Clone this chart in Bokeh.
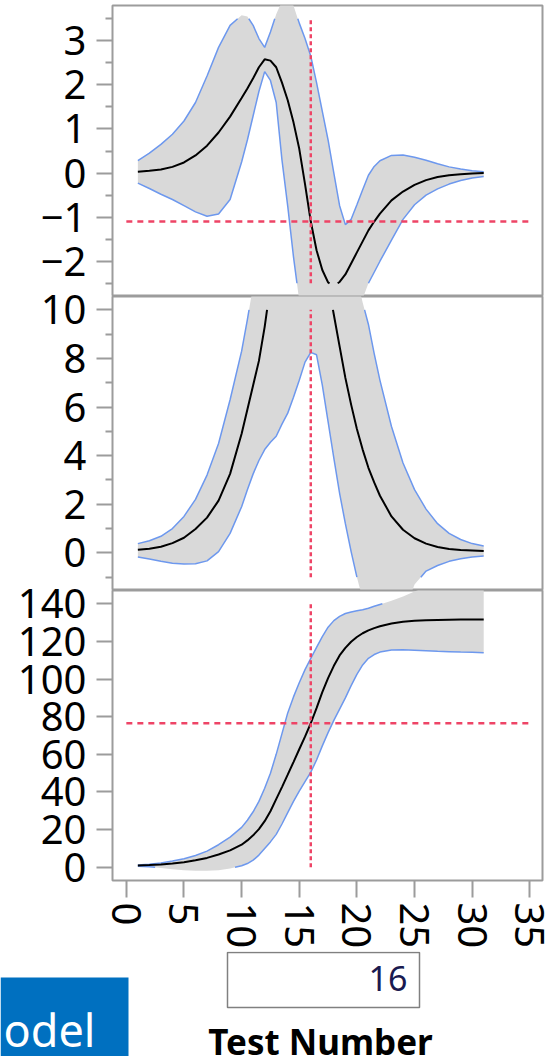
import numpy as np
from bokeh.plotting import figure
from bokeh.models import Range1d, FixedTicker
from bokeh.layouts import column
from bokeh.core.properties import value
from bokeh.embed import file_html
from bokeh.resources import INLINE

# ---------------- data ----------------
test_number = [1, 2, 3, 4, 5, 6, 7, 8, 9,
               10, 10.5, 11, 11.5, 12, 12.5, 13, 13.5, 14, 14.5, 15, 15.5, 16, 16.5,
               17, 17.5, 18, 18.5, 19, 19.5, 20, 20.5, 21, 21.5, 22,
               23, 24, 25, 26, 27, 28, 29, 30, 31]

p1_mean = [0.03, 0.05, 0.08, 0.14, 0.24, 0.40, 0.62, 0.92, 1.28,
           1.70, 1.92, 2.15, 2.40, 2.58, 2.55, 2.40, 2.05, 1.65, 1.15, 0.55, -0.25, -1.10, -1.75,
           -2.20, -2.48, -2.56, -2.47, -2.30, -2.05, -1.80, -1.55, -1.30, -1.10, -0.92,
           -0.62, -0.42, -0.27, -0.16, -0.09, -0.05, -0.03, -0.01, 0.00]
p1_upper = [0.28, 0.45, 0.65, 0.88, 1.18, 1.60, 2.20, 2.85, 3.35,
            3.58, 3.55, 3.35, 3.05, 2.85, 3.20, 3.60, 3.90, 4.00, 3.80, 3.40, 3.05, 2.65, 2.05,
            1.40, 0.75, 0.00, -0.74, -1.17, -1.05, -0.72, -0.38, -0.05, 0.15, 0.28,
            0.40, 0.41, 0.36, 0.29, 0.21, 0.14, 0.09, 0.05, 0.03]
p1_lower = [-0.23, -0.35, -0.48, -0.60, -0.74, -0.88, -0.98, -0.93, -0.60,
            0.25, 0.75, 1.30, 1.85, 2.30, 2.10, 1.60, 0.30, -0.75, -1.90, -2.90, -3.60, -4.00, -4.30,
            -4.50, -4.55, -4.50, -4.30, -4.00, -3.60, -3.20, -2.85, -2.50, -2.25, -2.00,
            -1.52, -1.05, -0.72, -0.50, -0.36, -0.25, -0.17, -0.11, -0.08]

p2_mean = [0.13, 0.17, 0.25, 0.40, 0.62, 0.98, 1.45, 2.15, 3.25,
           4.90, 5.90, 6.90, 7.90, 9.30, 11.0, 12.8, 14.5, 15.8, 16.5, 16.6, 16.0, 15.0, 13.8,
           12.5, 11.1, 9.80, 8.50, 7.20, 6.10, 5.10, 4.25, 3.50, 2.90, 2.35,
           1.50, 0.95, 0.60, 0.38, 0.24, 0.16, 0.12, 0.10, 0.08]
p2_upper = [0.38, 0.50, 0.68, 1.00, 1.50, 2.20, 3.20, 4.50, 6.30,
            8.30, 9.60, 11.0, 12.5, 14.0, 15.5, 17.0, 18.5, 19.5, 20.5, 21.0, 21.0, 20.5, 19.5,
            18.5, 17.3, 16.0, 14.8, 13.6, 12.4, 11.3, 10.3, 9.40, 8.20, 7.10,
            5.20, 3.70, 2.60, 1.80, 1.20, 0.80, 0.55, 0.38, 0.28]
p2_lower = [-0.17, -0.25, -0.35, -0.43, -0.46, -0.45, -0.33, 0.05, 0.80,
            1.90, 2.60, 3.25, 3.80, 4.25, 4.55, 4.80, 5.30, 5.75, 6.40, 7.10, 7.85, 8.25, 8.15,
            6.90, 5.40, 3.90, 2.45, 1.20, 0.05, -1.00, -1.90, -2.60, -3.10, -3.40,
            -3.50, -2.60, -1.30, -0.75, -0.52, -0.35, -0.24, -0.17, -0.13]

p3_mean = [1.0, 1.2, 1.5, 2.0, 2.7, 3.7, 5.0, 6.8, 9.0,
           12.0, 14.3, 17.0, 20.3, 24.5, 29.8, 36.2, 42.6, 49.2, 55.9, 62.7, 69.4, 76.5, 84.5,
           93.0, 100.5, 107.0, 112.5, 116.5, 119.8, 122.3, 124.3, 125.8, 127.0, 128.0,
           129.5, 130.4, 130.9, 131.2, 131.4, 131.5, 131.6, 131.6, 131.6]
p3_upper = [1.2, 1.6, 2.3, 3.3, 4.6, 6.3, 8.6, 12.0, 16.0,
            21.2, 25.0, 29.5, 35.0, 42.0, 50.0, 60.0, 71.0, 82.0, 90.5, 98.0, 105.0, 111.0, 116.8,
            122.5, 127.5, 131.0, 133.3, 134.8, 135.6, 136.2, 136.8, 137.6, 138.6, 139.6,
            141.5, 143.8, 146.5, 149.0, 150.5, 151.5, 152.0, 152.5, 153.0]
p3_lower = [0.6, 0.3, -0.3, -1.0, -1.5, -1.8, -1.8, -1.5, -0.6,
            0.8, 2.0, 3.8, 6.5, 10.0, 13.5, 17.5, 23.0, 29.0, 35.0, 40.5, 45.5, 50.5, 57.0,
            64.5, 71.5, 78.0, 84.0, 90.0, 96.5, 102.5, 107.5, 111.0, 113.0, 114.3,
            115.4, 115.6, 115.3, 115.0, 114.7, 114.5, 114.3, 114.2, 114.0]

x_ticks = [0, 5, 10, 15, 20, 25, 30, 35]
p1_ticks = [-2, -1, 0, 1, 2, 3]
p1_minor = [-2.5, -1.5, -0.5, 0.5, 1.5, 2.5, 3.5]
p2_ticks = [0, 2, 4, 6, 8, 10]
p2_minor = [-1, 1, 3, 5, 7, 9]
p3_ticks = [0, 20, 40, 60, 80, 100, 120, 140]
current_x = 16
x_title = "Test Number"
side_tab = "odel"

# ---------------- style ----------------
FONT = "Noto Sans"
FILL = "#d9d9d9"
BAND = "#6d98ee"
RED = "#ee4466"
FRAME = "#9c9c9c"
OVER = 30   # canvas overlap above each lower panel, so its top tick label has room


def clip_polyline(xs, ys, lo, hi):
    """Cut a polyline to the horizontal band lo..hi (render-time clipping)."""
    out_x, out_y = [], []
    open_piece = False
    for i in range(len(xs) - 1):
        x0, y0, x1, y1 = xs[i], ys[i], xs[i + 1], ys[i + 1]
        dy = y1 - y0
        t0, t1 = 0.0, 1.0
        if dy == 0:
            if not (lo <= y0 <= hi):
                open_piece = False
                continue
        else:
            ta, tb = (lo - y0) / dy, (hi - y0) / dy
            t0 = max(0.0, min(ta, tb))
            t1 = min(1.0, max(ta, tb))
            if t0 >= t1:
                open_piece = False
                continue
        ax, ay = x0 + t0 * (x1 - x0), y0 + t0 * dy
        bx, by = x0 + t1 * (x1 - x0), y0 + t1 * dy
        if not (open_piece and t0 == 0.0):
            if out_x:
                out_x.append(np.nan)
                out_y.append(np.nan)
            out_x.append(ax)
            out_y.append(ay)
        out_x.append(bx)
        out_y.append(by)
        open_piece = (t1 == 1.0)
    return np.array(out_x, dtype=float), np.array(out_y, dtype=float)


xr = Range1d(-1.2, 36.1)


def make_panel(frame_h, mean, upper, lower, ticks, minor, top=0, bottom=0,
               xaxis=False, hline=True, overlap=0):
    allt = sorted(list(ticks) + list(minor))
    lo, hi = allt[0], allt[-1]
    pad = 0.05 * (hi - lo)
    p = figure(width=548, height=frame_h + top + bottom + overlap, x_range=xr,
               y_range=Range1d(lo - pad, hi + pad),
               output_backend="svg", toolbar_location=None,
               x_axis_location="below" if xaxis else None,
               min_border_left=112, min_border_right=6,
               min_border_top=top + overlap, min_border_bottom=bottom)
    if overlap:
        p.margin = (-overlap, 0, 0, 0)
        p.border_fill_color = None
    else:
        p.border_fill_color = "white"
    p.background_fill_color = "white"
    p.outline_line_color = FRAME
    p.outline_line_width = 2
    p.grid.visible = False

    p.varea(x=test_number, y1=lower, y2=upper, fill_color=FILL, fill_alpha=1.0)
    for ser, col, w in ((upper, BAND, 1.5), (lower, BAND, 1.5), (mean, "black", 2.0)):
        cx, cy = clip_polyline(test_number, ser, lo, hi)
        p.line(cx, cy, line_color=col, line_width=w)

    p.segment(x0=[current_x], y0=[lo], x1=[current_x], y1=[hi],
              line_color=RED, line_width=2.5, line_dash="4 3")
    if hline:
        yv = mean[test_number.index(current_x)]
        p.segment(x0=[x_ticks[0]], y0=[yv], x1=[x_ticks[-1]], y1=[yv],
                  line_color=RED, line_width=2.5, line_dash="6 5")

    ax = p.yaxis[0]
    ax.ticker = FixedTicker(ticks=ticks, minor_ticks=minor)
    ax.axis_line_color = None
    ax.major_tick_line_color = FRAME
    ax.major_tick_line_width = 2
    ax.minor_tick_line_color = FRAME
    ax.minor_tick_line_width = 2
    ax.major_tick_in = 0
    ax.major_tick_out = 16
    ax.minor_tick_in = 0
    ax.minor_tick_out = 7
    ax.major_label_text_font = FONT
    ax.major_label_text_font_size = "40px"
    ax.major_label_text_color = "black"
    ax.major_label_standoff = 10

    if xaxis:
        xa = p.xaxis[0]
        xa.ticker = FixedTicker(ticks=x_ticks, minor_ticks=[])
        xa.axis_line_color = None
        xa.major_tick_line_color = FRAME
        xa.major_tick_line_width = 2
        xa.major_tick_in = 0
        xa.major_tick_out = 17
        xa.major_label_orientation = "vertical"
        xa.major_label_text_font = FONT
        xa.major_label_text_font_size = "40px"
        xa.major_label_text_color = "black"
        xa.major_label_standoff = 5
    return p


f1 = make_panel(291, p1_mean, p1_upper, p1_lower, p1_ticks, p1_minor, top=5)
f2 = make_panel(294, p2_mean, p2_upper, p2_lower, p2_ticks, p2_minor, hline=False, overlap=OVER)
f3 = make_panel(293, p3_mean, p3_upper, p3_lower, p3_ticks, [], bottom=68, xaxis=True, overlap=OVER)

# bottom strip: current-value box, axis title and the cut-off tab
f4 = figure(width=548, height=105, x_range=Range1d(0, 548), y_range=Range1d(0, 105),
            output_backend="svg", toolbar_location=None,
            x_axis_location=None, y_axis_location=None, min_border=0)
f4.frame_align = False
f4.outline_line_color = None
f4.grid.visible = False
f4.background_fill_color = "white"
f4.border_fill_color = "white"
f4.quad(left=[0], right=[128], bottom=[0], top=[79], fill_color="#0070c0", line_color=None)
f4.text(x=[3], y=[27], text=[side_tab], text_align="left", text_baseline="middle",
        text_font=value(FONT), text_font_size="45px", text_color="white")
f4.quad(left=[227], right=[419], bottom=[49], top=[104], fill_color="white",
        line_color="#808080", line_width=1.5)
f4.text(x=[407], y=[78], text=[str(current_x)], text_align="right", text_baseline="middle",
        text_font=value(FONT), text_font_size="34px", text_color="#1a1a50")
f4.text(x=[320], y=[15], text=[x_title], text_align="center", text_baseline="middle",
        text_font=value(FONT), text_font_size="35px", text_font_style="bold", text_color="black")

layout = column(f1, f2, f3, f4, spacing=0)
open("out.html", "w").write(file_html(layout, INLINE))
